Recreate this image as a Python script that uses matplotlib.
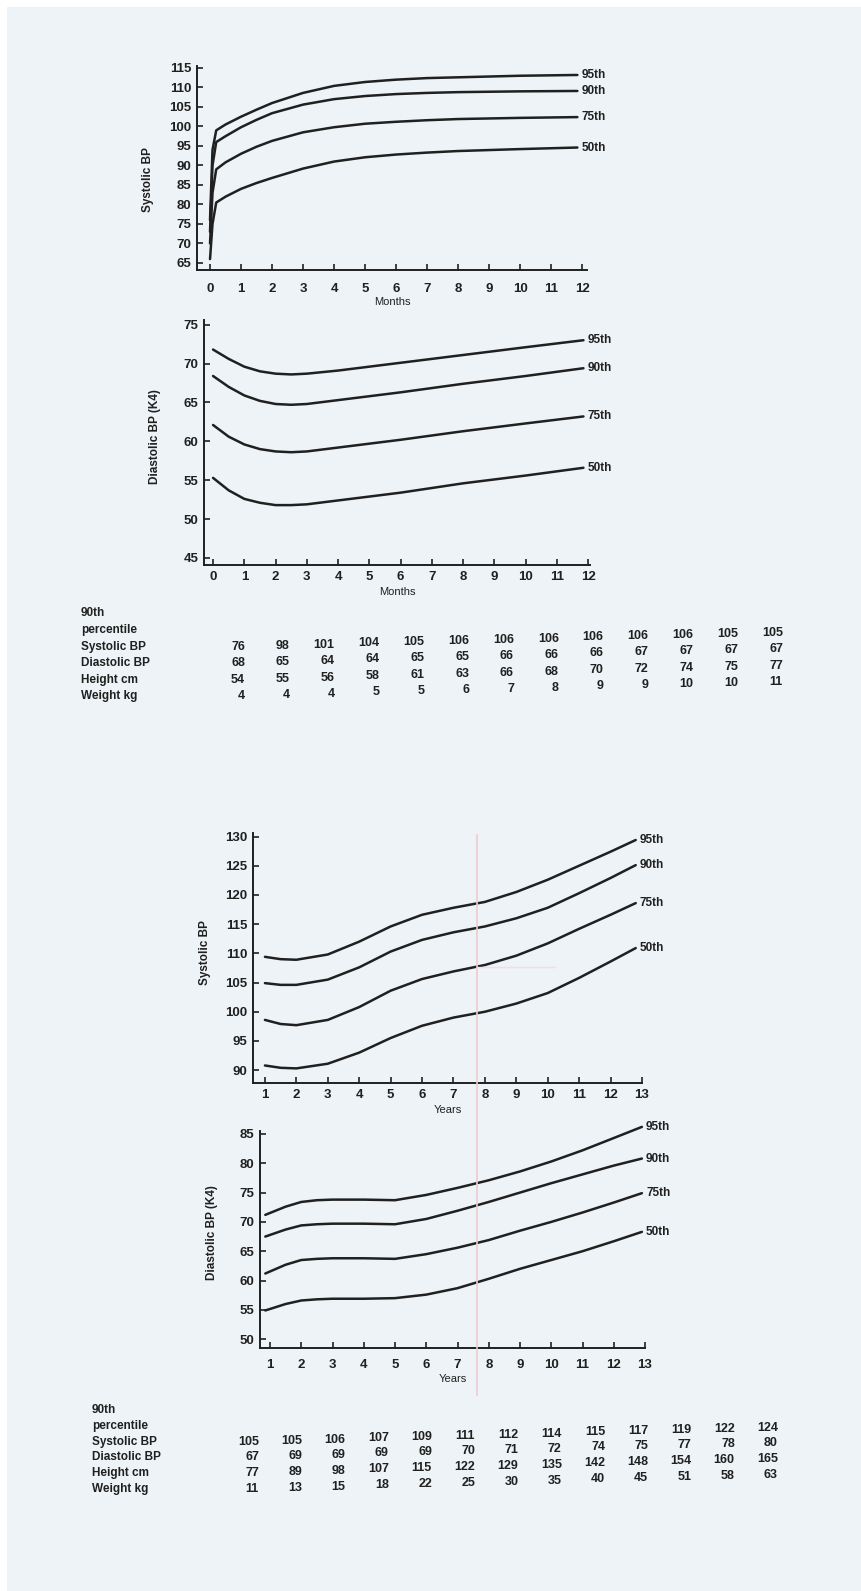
import matplotlib
matplotlib.use("Agg")
import matplotlib.pyplot as plt
from matplotlib.lines import Line2D
from matplotlib.patches import Rectangle

plt.rcParams['font.family'] = ['Liberation Sans Narrow', 'Liberation Sans', 'DejaVu Sans']
plt.rcParams['font.weight'] = 'bold'

W, H = 861, 1591
PAGE = '#edf3f6'
INK = '#202020'

pct_names = ['95th', '90th', '75th', '50th']

# first year, systolic (months)
sys_m_x = [0, 0.08, 0.2, 0.5, 1, 1.5, 2, 3, 4, 5, 6, 7, 8, 10, 11.85]
sys_m_95 = [76, 94, 99, 100.5, 102.5, 104.3, 106, 108.6, 110.4, 111.4, 112, 112.4, 112.6, 113, 113.2]
sys_m_90 = [73, 90, 96, 97.5, 99.8, 101.7, 103.4, 105.6, 107, 107.8, 108.3, 108.6, 108.8, 109, 109.1]
sys_m_75 = [70, 83, 89, 90.8, 93, 94.8, 96.3, 98.5, 99.8, 100.7, 101.2, 101.6, 101.9, 102.2, 102.4]
sys_m_50 = [66, 75, 80.5, 82, 84, 85.5, 86.8, 89.2, 91, 92.1, 92.8, 93.3, 93.7, 94.2, 94.6]

# first year, diastolic (months)
dia_m_x = [0, 0.5, 1, 1.5, 2, 2.5, 3, 4, 5, 6, 8, 10, 11.85]
dia_m_95 = [71.8, 70.6, 69.6, 69.0, 68.7, 68.6, 68.7, 69.1, 69.6, 70.1, 71.1, 72.1, 73.0]
dia_m_90 = [68.4, 67.0, 65.9, 65.2, 64.8, 64.7, 64.8, 65.3, 65.8, 66.3, 67.4, 68.4, 69.4]
dia_m_75 = [62.1, 60.6, 59.6, 59.0, 58.7, 58.6, 58.7, 59.2, 59.7, 60.2, 61.3, 62.3, 63.2]
dia_m_50 = [55.3, 53.7, 52.6, 52.1, 51.8, 51.8, 51.9, 52.4, 52.9, 53.4, 54.6, 55.6, 56.6]

# 1-13 years, systolic
sys_y_x = [1, 1.5, 2, 3, 4, 5, 6, 7, 8, 9, 10, 11, 12, 12.8]
sys_y_95 = [109.4, 109.0, 108.9, 109.8, 112.0, 114.6, 116.6, 117.8, 118.8, 120.5, 122.6, 125.0, 127.4, 129.4]
sys_y_90 = [104.9, 104.6, 104.6, 105.5, 107.6, 110.3, 112.3, 113.6, 114.6, 116.0, 117.8, 120.3, 122.9, 125.1]
sys_y_75 = [98.6, 97.9, 97.7, 98.6, 100.8, 103.6, 105.6, 106.9, 108.0, 109.6, 111.7, 114.2, 116.6, 118.6]
sys_y_50 = [90.8, 90.4, 90.3, 91.1, 93.0, 95.5, 97.6, 99.0, 100.0, 101.4, 103.2, 105.8, 108.6, 110.9]

# 1-13 years, diastolic
dia_y_x = [0.85, 1.5, 2, 2.5, 3, 4, 5, 6, 7, 8, 9, 10, 11, 12, 12.9]
dia_y_95 = [71.2, 72.6, 73.4, 73.7, 73.8, 73.8, 73.7, 74.6, 75.8, 77.1, 78.6, 80.3, 82.2, 84.3, 86.2]
dia_y_90 = [67.5, 68.7, 69.4, 69.6, 69.7, 69.7, 69.6, 70.5, 71.9, 73.4, 75.0, 76.6, 78.1, 79.6, 80.8]
dia_y_75 = [61.2, 62.7, 63.5, 63.7, 63.8, 63.8, 63.7, 64.5, 65.6, 66.9, 68.5, 70.0, 71.6, 73.3, 74.9]
dia_y_50 = [54.9, 56.0, 56.6, 56.8, 56.9, 56.9, 57.0, 57.6, 58.7, 60.3, 62.0, 63.5, 65.0, 66.7, 68.3]

# 90th percentile tables
row_names = ['Systolic BP', 'Diastolic BP', 'Height cm', 'Weight kg']
infant_sys = [76, 98, 101, 104, 105, 106, 106, 106, 106, 106, 106, 105, 105]
infant_dia = [68, 65, 64, 64, 65, 65, 66, 66, 66, 67, 67, 67, 67]
infant_height = [54, 55, 56, 58, 61, 63, 66, 68, 70, 72, 74, 75, 77]
infant_weight = [4, 4, 4, 5, 5, 6, 7, 8, 9, 9, 10, 10, 11]
child_sys = [105, 105, 106, 107, 109, 111, 112, 114, 115, 117, 119, 122, 124]
child_dia = [67, 69, 69, 69, 69, 70, 71, 72, 74, 75, 77, 78, 80]
child_height = [77, 89, 98, 107, 115, 122, 129, 135, 142, 148, 154, 160, 165]
child_weight = [11, 13, 15, 18, 22, 25, 30, 35, 40, 45, 51, 58, 63]


def px_axes(fig, left, top, right, bottom):
    return fig.add_axes([left / W, 1 - bottom / H, (right - left) / W, (bottom - top) / H])


def style_axes(ax, xlim, ylim, xticks, yticks, xpad=4):
    ax.set_facecolor('none')
    ax.spines['top'].set_visible(False)
    ax.spines['right'].set_visible(False)
    for s in ('left', 'bottom'):
        ax.spines[s].set_linewidth(1.4)
        ax.spines[s].set_color(INK)
    ax.set_xlim(*xlim)
    ax.set_ylim(*ylim)
    ax.set_xticks(xticks)
    ax.set_yticks(yticks)
    ax.tick_params(direction='in', length=4, width=1.2, colors=INK, labelsize=9.5, pad=4)
    ax.tick_params(axis='x', pad=xpad)


def draw_curves(ax, x, series):
    for name, y in zip(pct_names, series):
        ax.plot(x, y, color=INK, lw=1.8, clip_on=False, solid_capstyle='round', solid_joinstyle='round')
        ax.annotate(name, xy=(x[-1], y[-1]), xytext=(3, 0), textcoords='offset points',
                    ha='left', va='center', fontsize=8.5, color=INK, annotation_clip=False)


def draw_table(fig, label_x, col_first, col_last, row_y, values, tilt):
    fig.text(label_x / W, 1 - row_y[0] / H, '90th', fontsize=8.5, color=INK, va='center')
    fig.text(label_x / W, 1 - row_y[1] / H, 'percentile', fontsize=8.5, color=INK, va='center')
    step = (col_last - col_first) / 12
    for r, (name, vals) in enumerate(zip(row_names, values)):
        y = row_y[r + 2]
        fig.text(label_x / W, 1 - y / H, name, fontsize=8.5, color=INK, va='center')
        for c, v in enumerate(vals):
            cx = col_first + c * step + 8
            fig.text(cx / W, 1 - (y - c * tilt) / H, str(v), fontsize=9, color=INK,
                     ha='right', va='center')


fig = plt.figure(figsize=(W / 100, H / 100), dpi=100, facecolor=PAGE)

# scanner margin along the top and left edges
fig.add_artist(Rectangle((0, 1 - 7 / H), 1, 7 / H, transform=fig.transFigure, color='white', lw=0))
fig.add_artist(Rectangle((0, 0), 7 / W, 1, transform=fig.transFigure, color='white', lw=0))

# faint pink rules showing through from the facing page
fig.add_artist(Line2D([477 / W, 477 / W], [1 - 835 / H, 1 - 1395 / H], transform=fig.transFigure,
                      color='#efcbd3', lw=1.2))
fig.add_artist(Line2D([477 / W, 555 / W], [1 - 967 / H, 1 - 967 / H], transform=fig.transFigure,
                      color='#f4dce2', lw=1.0))

# systolic, months
ax1 = px_axes(fig, 197, 66, 587, 270)
style_axes(ax1, (-0.42, 12.16), (63.2, 115.5), range(0, 13), range(65, 116, 5), xpad=9)
draw_curves(ax1, sys_m_x, [sys_m_95, sys_m_90, sys_m_75, sys_m_50])
ax1.set_xlabel('Months', fontsize=8, color=INK, labelpad=2)
fig.text(148 / W, 1 - 180 / H, 'Systolic BP', rotation=90, ha='center', va='center', fontsize=8.5, color=INK)

# diastolic, months
ax2 = px_axes(fig, 204, 320, 590, 565)
style_axes(ax2, (-0.29, 12.06), (44.1, 75.6), range(0, 13), range(45, 76, 5))
draw_curves(ax2, dia_m_x, [dia_m_95, dia_m_90, dia_m_75, dia_m_50])
ax2.set_xlabel('Months', fontsize=8, color=INK, labelpad=3)
fig.text(155 / W, 1 - 437 / H, 'Diastolic BP (K4)', rotation=90, ha='center', va='center', fontsize=8.5, color=INK)

draw_table(fig, 81, 237, 775, [613, 630, 647, 663, 680, 696],
           [infant_sys, infant_dia, infant_height, infant_weight], 1.2)

# systolic, years
ax3 = px_axes(fig, 253, 833, 642, 1083)
style_axes(ax3, (0.62, 13.0), (87.8, 130.6), range(1, 14), range(90, 131, 5))
draw_curves(ax3, sys_y_x, [sys_y_95, sys_y_90, sys_y_75, sys_y_50])
ax3.set_xlabel('Years', fontsize=8, color=INK, labelpad=3)
fig.text(205 / W, 1 - 953 / H, 'Systolic BP', rotation=90, ha='center', va='center', fontsize=8.5, color=INK)

# diastolic, years
ax4 = px_axes(fig, 260, 1131, 645, 1348)
style_axes(ax4, (0.68, 13.0), (48.5, 85.5), range(1, 14), range(50, 86, 5), xpad=8)
draw_curves(ax4, dia_y_x, [dia_y_95, dia_y_90, dia_y_75, dia_y_50])
ax4.set_xlabel('Years', fontsize=8, color=INK, labelpad=2)
fig.text(212 / W, 1 - 1233 / H, 'Diastolic BP (K4)', rotation=90, ha='center', va='center', fontsize=8.5, color=INK)

draw_table(fig, 92, 251, 770, [1410, 1426, 1442, 1457, 1473, 1489],
           [child_sys, child_dia, child_height, child_weight], 1.2)

fig.savefig('out.png', dpi=100, facecolor=PAGE)
